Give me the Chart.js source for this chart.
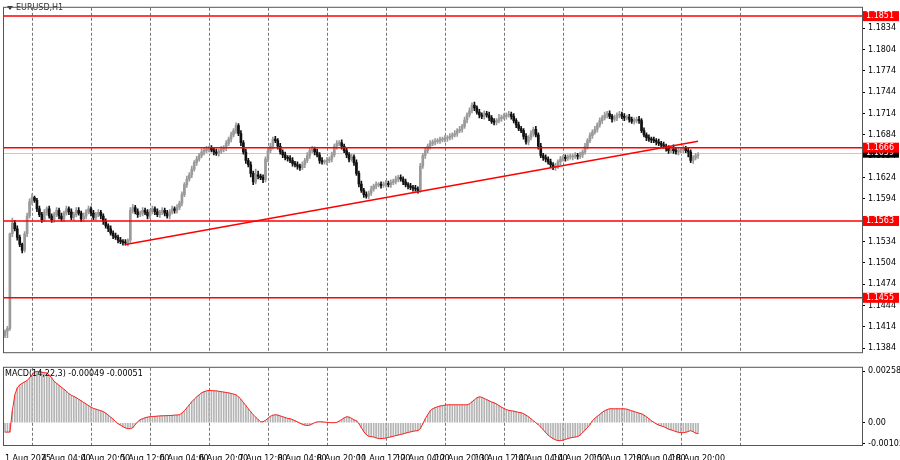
<!DOCTYPE html>
<html><head><meta charset="utf-8">
<script src="https://cdn.jsdelivr.net/npm/chart.js@4.4.1/dist/chart.umd.min.js"></script>
<style>
html,body{margin:0;padding:0;background:#fff;width:900px;height:460px;overflow:hidden}
canvas{position:absolute;left:0}
#c1{top:0}#c2{top:360px}
</style></head><body>
<canvas id="c1" width="900" height="360"></canvas>
<canvas id="c2" width="900" height="100"></canvas>
<script>
// EURUSD H1 closes, in pips above 1.1000 (bar 0 = 1 Aug 13:00)
const closePips = [
408,412,545,560,552,540,530,522,545,570, 590,596,592,580,572,565,575,580,570,565,
572,578,570,566,574,580,576,568,572,578, 574,566,570,576,580,574,568,572,575,570,
562,556,552,546,542,540,536,534,533,532, 536,578,582,576,572,574,578,575,570,576,
580,576,572,575,578,574,570,576,580,578, 582,588,600,614,622,628,636,645,650,655,
660,662,664,665,663,660,658,661,664,666, 672,678,684,690,697,686,673,660,648,642,
630,618,628,626,624,621,650,662,668,678, 676,668,660,656,652,651,648,644,642,640,
638,642,648,655,662,664,660,656,648,646, 646,648,650,656,668,672,673,668,662,656,
650,653,645,630,615,606,600,598,602,608, 612,614,614,613,615,616,614,617,619,622,
624,622,618,614,612,610,609,608,606,640, 655,662,668,672,674,675,676,677,678,679,
680,682,684,686,690,692,696,705,712,718, 726,722,716,712,710,714,712,708,703,702,
704,707,709,710,712,713,710,704,698,693, 690,682,674,680,686,692,684,668,655,652,
650,646,642,638,640,646,650,652,651,653, 653,654,655,654,656,660,668,676,683,688,
692,698,704,708,712,714,710,706,708,712, 713,710,708,709,706,703,704,706,704,690,
684,680,678,677,676,674,672,670,668,665, 662,664,662,660,662,663,665,662,660,648,
652,655,656];
const firstOpenPips = 402;
// wick lengths in pips (upper / lower), one digit per bar
const upperWick = "2317443234452343434334343434344343434343343434343424434343434343434343434343434343434343434343434343438534334343434344343434343434343434343434343434343434343434343434343434343434343434343434343434343436343434343343434343434343434343434343434343434343434343434343434343434363434343";
const lowerWick = "3934343434343434343443434343433434343434434343434343434343433434343434434343434334343434344343434343543434343434343434344343434343343434343443434343433434343434434343434334343434344343434343343434343443434343433434343434434343434334343434343434343434434343434334343434344343434373434";
// MACD histogram / signal (x 1e-5)
const macdE5 = [
-47,-47,-47,60,140,175,190,198,205,212, 225,240,255,258,256,254,252,250,240,225,
208,198,188,178,168,158,146,138,132,126, 118,110,102,94,86,78,72,68,64,60,
56,48,38,28,18,6,-5,-12,-20,-26, -30,-30,-25,-10,5,15,20,25,28,30,
31,32,33,34,35,35,36,36,37,38, 39,40,48,60,75,90,105,118,130,140,
150,156,160,162,162,160,160,158,156,154, 152,150,147,144,140,130,118,102,86,70,
55,40,28,16,5,5,12,22,32,38, 40,38,34,30,26,22,20,16,10,4,
-2,-8,-12,-14,-12,-6,0,4,5,4, 3,2,1,0,0,2,8,16,24,30,
28,22,14,10,-5,-25,-45,-60,-68,-70, -72,-76,-80,-80,-79,-77,-74,-71,-68,-65,
-62,-59,-56,-52,-49,-46,-43,-41,-40,-30, -5,20,40,60,70,76,80,84,86,88,
90,90,90,90,90,90,90,90,90,95, 105,115,125,130,128,122,116,110,104,100,
94,86,78,72,66,62,60,58,55,52, 50,45,38,30,20,10,0,-10,-22,-35,
-50,-62,-72,-80,-86,-90,-90,-88,-84,-80, -76,-74,-72,-70,-62,-50,-38,-24,-10,10,
22,32,42,52,60,66,70,70,70,70, 70,70,70,68,64,60,56,52,48,45,
38,30,20,10,2,-6,-12,-16,-20,-26, -32,-36,-40,-45,-48,-50,-50,-48,-44,-40,
-45,-52,-55];
const levelPrices = [1.1851, 1.1666, 1.1563, 1.1455];
const bidPrice = 1.1659;
const trendBars = [49, 282];
const trendPrices = [1.1530, 1.1675];
const priceTicks = [1.1834,1.1804,1.1774,1.1744,1.1714,1.1684,1.1654,1.1624,1.1594,1.1534,1.1504,1.1474,1.1444,1.1414,1.1384];
const dayBars = [11,35,59,83,107,131,155,179,203,227,251,275,299];
const labelBars = [0,15,31,47,63,79,95,111,127,143,159,175,191,207,223,239,255,271];
const labelTexts = ["1 Aug 2025","4 Aug 04:00","4 Aug 20:00","5 Aug 12:00","6 Aug 04:00","6 Aug 20:00","7 Aug 12:00","8 Aug 04:00","8 Aug 20:00","11 Aug 12:00","12 Aug 04:00","12 Aug 20:00","13 Aug 12:00","14 Aug 04:00","14 Aug 20:00","15 Aug 12:00","18 Aug 04:00","18 Aug 20:00"];
const macdTicks = [0.00258, 0, -0.00105];
const macdTickText = ["0.00258","0.00","-0.00105"];

const closes = closePips.map(p => 1.1 + p/1e4);
const opens = closes.map((c,i) => i ? closes[i-1] : 1.1 + firstOpenPips/1e4);
const highs = closes.map((c,i) => Math.max(c,opens[i]) + (+upperWick[i]||3)/1e4);
const lows = closes.map((c,i) => Math.min(c,opens[i]) - (+lowerWick[i]||3)/1e4);
const macd = macdE5.map(v => v/1e5);

const XMIN = -0.4, XMAX = 348.7;
Chart.defaults.font = {family:'DejaVu Sans', size:8};
Chart.defaults.color = '#000';

const bull = '#9a9a9a', bear = '#111';
const col = closes.map((c,i) => c >= opens[i] ? bull : bear);

function frameAndGrid(drawLevels){
  return {
    id:'fg',
    beforeDatasetsDraw(ch){
      const {ctx, chartArea:a, scales:{x,y}} = ch;
      ctx.save();
      ctx.strokeStyle = '#777'; ctx.lineWidth = 1; ctx.setLineDash([3,2]);
      dayBars.forEach(b => { const px = Math.round(x.getPixelForValue(b))+0.5;
        ctx.beginPath(); ctx.moveTo(px,a.top); ctx.lineTo(px,a.bottom); ctx.stroke(); });
      ctx.setLineDash([]);
      if (drawLevels){
        ctx.strokeStyle = '#c8c8c8';
        const by = Math.round(y.getPixelForValue(bidPrice))+0.5;
        ctx.beginPath(); ctx.moveTo(a.left,by); ctx.lineTo(a.right,by); ctx.stroke();
      }
      ctx.restore();
    },
    afterDatasetsDraw(ch){
      const {ctx, chartArea:a, scales:{y}} = ch;
      ctx.save();
      if (drawLevels){
        ctx.strokeStyle = '#ff0000'; ctx.lineWidth = 1.5;
        levelPrices.forEach(p => { const py = y.getPixelForValue(p);
          ctx.beginPath(); ctx.moveTo(a.left,py); ctx.lineTo(a.right,py); ctx.stroke(); });
        ctx.font = '8px DejaVu Sans'; ctx.textBaseline = 'middle';
        const box = (p, bg) => { const py = y.getPixelForValue(p);
          ctx.fillStyle = bg; ctx.fillRect(a.right+1, py-5, 36, 10);
          ctx.fillStyle = '#fff'; ctx.fillText(p.toFixed(4), a.right+4, py); };
        box(bidPrice, '#000');
        levelPrices.forEach(p => box(p, '#ff0000'));
        ctx.fillStyle = '#333';
        ctx.beginPath(); ctx.moveTo(a.left+3,6); ctx.lineTo(a.left+9,6); ctx.lineTo(a.left+6,10); ctx.fill();
        ctx.fillText('EURUSD,H1', a.left+12, 8);
      } else {
        ctx.fillStyle = '#000'; ctx.textBaseline = 'middle';
        ctx.fillText('MACD(14,22,3) -0.00049 -0.00051', a.left+1, a.top+6);
      }
      ctx.strokeStyle = '#555'; ctx.lineWidth = 1;
      ctx.strokeRect(a.left-0.5, a.top-0.5, a.right-a.left+1, a.bottom-a.top+1);
      ctx.restore();
    }
  };
}

const idx = closes.map((c,i)=>i);
new Chart(document.getElementById('c1'), {
  type:'bar',
  data:{ datasets:[
    {type:'line', data: trendBars.map((b,k)=>({x:b,y:trendPrices[k]})), borderColor:'#ff0000', borderWidth:1.5, pointRadius:0, order:0},
    {data: idx.map(i=>({x:i,y:[lows[i],highs[i]]})), backgroundColor:col, barThickness:1, grouped:false, order:2},
    {data: idx.map(i=>({x:i,y:[opens[i],closes[i]]})), backgroundColor:col, barThickness:2, minBarLength:1, grouped:false, order:1}
  ]},
  options:{
    responsive:false, animation:false, devicePixelRatio:1,
    layout:{padding:{left:4,top:3,right:0,bottom:2}},
    plugins:{legend:{display:false}, tooltip:{enabled:false}},
    scales:{
      x:{type:'linear', offset:false, min:XMIN, max:XMAX, grid:{display:false, offset:false}, border:{display:false},
         ticks:{display:false}, afterFit(s){s.height=0;}},
      y:{position:'right', min:1.13785, max:1.18627,
         afterBuildTicks(s){s.ticks = priceTicks.map(v=>({value:v}));},
         ticks:{callback:v=>v.toFixed(4), padding:3, autoSkip:false},
         grid:{drawOnChartArea:false, drawTicks:true, tickLength:3, color:'#000'},
         border:{display:false}, afterFit(s){s.width=38;}}
    }
  },
  plugins:[frameAndGrid(true)]
});

new Chart(document.getElementById('c2'), {
  type:'bar',
  data:{ datasets:[
    {type:'line', data: idx.map(i=>({x:i,y:macd[i]})), borderColor:'#ff2020', borderWidth:1, pointRadius:0, order:0},
    {data: idx.map(i=>({x:i,y:macd[i]})), backgroundColor:'#b4b4b4', barThickness:1, order:1}
  ]},
  options:{
    responsive:false, animation:false, devicePixelRatio:1,
    layout:{padding:{left:4,top:2,right:0,bottom:0}},
    plugins:{legend:{display:false}, tooltip:{enabled:false}},
    scales:{
      x:{type:'linear', offset:false, min:XMIN, max:XMAX, grid:{display:false, offset:false}, border:{display:false},
         afterBuildTicks(s){s.ticks = labelBars.map(v=>({value:v}));},
         ticks:{align:'start', maxRotation:0, autoSkip:false, padding:1,
           callback:v=>labelTexts[labelBars.indexOf(v)] ?? ''},
         afterFit(s){s.height=15;}},
      y:{position:'right', min:-0.00112, max:0.00276,
         afterBuildTicks(s){s.ticks = macdTicks.map(v=>({value:v}));},
         ticks:{callback:v=>macdTickText[macdTicks.indexOf(v)] ?? '', padding:3, autoSkip:false},
         grid:{drawOnChartArea:false, drawTicks:true, tickLength:3, color:'#000'},
         border:{display:false}, afterFit(s){s.width=38;}}
    }
  },
  plugins:[frameAndGrid(false)]
});
</script></body></html>
